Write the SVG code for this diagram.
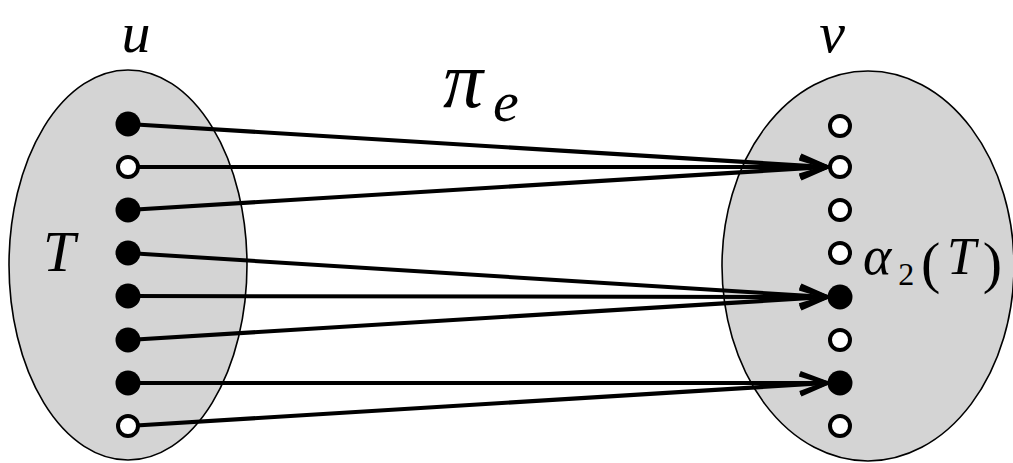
<svg xmlns="http://www.w3.org/2000/svg" width="1013" height="463" viewBox="0 0 1013 463">
<style>
.set{fill:#d4d4d4;stroke:#000;stroke-width:1.6}
.full{fill:#000}
.open{fill:#fff;stroke:#000;stroke-width:4}
.edge{stroke:#000;stroke-width:4;fill:none;marker-end:url(#ah)}
.lbl{font-family:"Liberation Serif",serif;font-style:italic;fill:#000}
.rm{font-family:"Liberation Serif",serif;font-style:normal;fill:#000}
</style>
<defs>
<marker id="ah" markerUnits="userSpaceOnUse" markerWidth="40" markerHeight="30" viewBox="-32 -15 40 30" refX="0" refY="0" orient="auto" overflow="visible">
<path d="M-27,-10 L0,0 L-27,10" fill="none" stroke="#000" stroke-width="4" stroke-linejoin="miter"/>
</marker>
</defs>
<g id="set-u"><ellipse class="set" cx="128" cy="265" rx="119" ry="195"/></g>
<g id="set-v"><ellipse class="set" cx="868" cy="266" rx="146" ry="195"/></g>
<g id="connectors">
<line class="edge" x1="128" y1="124" x2="827" y2="167"/>
<line class="edge" x1="128" y1="167" x2="827" y2="167"/>
<line class="edge" x1="128" y1="210" x2="827" y2="167"/>
<line class="edge" x1="128" y1="253" x2="827" y2="297"/>
<line class="edge" x1="128" y1="296" x2="827" y2="297"/>
<line class="edge" x1="128" y1="340" x2="827" y2="297"/>
<line class="edge" x1="128" y1="383" x2="827" y2="383"/>
<line class="edge" x1="128" y1="426" x2="827" y2="383"/>
</g>
<g id="u-elements">
<circle class="full" cx="128" cy="124" r="12.5"/>
<circle class="open" cx="128" cy="167" r="10"/>
<circle class="full" cx="128" cy="210" r="12.5"/>
<circle class="full" cx="128" cy="253" r="12.5"/>
<circle class="full" cx="128" cy="296" r="12.5"/>
<circle class="full" cx="128" cy="340" r="12.5"/>
<circle class="full" cx="128" cy="383" r="12.5"/>
<circle class="open" cx="128" cy="426" r="10"/>
</g>
<g id="v-elements">
<circle class="open" cx="840" cy="126" r="10"/>
<circle class="open" cx="840" cy="167" r="10"/>
<circle class="open" cx="840" cy="210" r="10"/>
<circle class="open" cx="840" cy="253" r="10"/>
<circle class="full" cx="840" cy="297" r="12.5"/>
<circle class="open" cx="840" cy="340" r="10"/>
<circle class="full" cx="840" cy="383" r="12.5"/>
<circle class="open" cx="840" cy="426" r="10"/>
</g>
<g id="labels">
<text class="lbl" x="136" y="52" font-size="58" text-anchor="middle">u</text>
<text class="lbl" x="832" y="52" font-size="58" text-anchor="middle">v</text>
<text class="lbl" x="443" y="107" font-size="80">π</text>
<text class="lbl" x="493" y="121" font-size="58">e</text>
<text class="lbl" x="43" y="271" font-size="58">T</text>
<text class="lbl" x="863" y="274" textLength="139" lengthAdjust="spacing"><tspan font-size="54">α</tspan><tspan class="rm" font-size="32" dy="11">2</tspan><tspan class="rm" font-size="58" dy="-3">(</tspan><tspan font-size="52" dy="-8">T</tspan><tspan class="rm" font-size="58" dy="8">)</tspan></text>
</g>
</svg>
